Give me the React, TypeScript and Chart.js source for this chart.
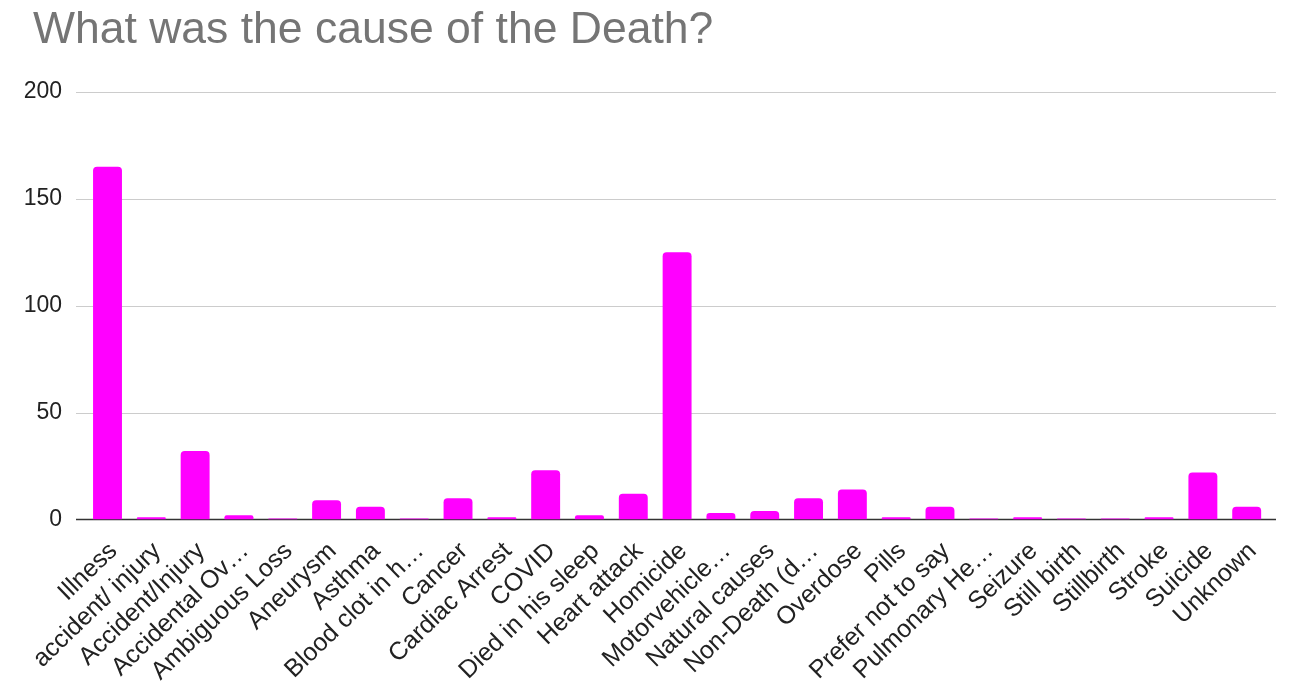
import React, { useEffect, useRef } from "react";
import { Chart, registerables } from "chart.js";

Chart.register(...registerables);

// Causes of death and how many responses named each one
const causes: string[] = [
  "Illness",
  "accident/ injury",
  "Accident/Injury",
  "Accidental Ov…",
  "Ambiguous Loss",
  "Aneurysm",
  "Asthma",
  "Blood clot in h…",
  "Cancer",
  "Cardiac Arrest",
  "COVID",
  "Died in his sleep",
  "Heart attack",
  "Homicide",
  "Motorvehicle…",
  "Natural causes",
  "Non-Death (d…",
  "Overdose",
  "Pills",
  "Prefer not to say",
  "Pulmonary He…",
  "Seizure",
  "Still birth",
  "Stillbirth",
  "Stroke",
  "Suicide",
  "Unknown",
];

const counts: number[] = [
  165, 1, 32, 2, 0, 9, 6, 0, 10, 1, 23, 2, 12, 125, 3, 4, 10, 14, 1, 6, 0, 1, 0, 0,
  1, 22, 6,
];

const yTicks: number[] = [0, 50, 100, 150, 200];

const TITLE = "What was the cause of the Death?";

const WIDTH = 1295;
const HEIGHT = 687;
const FONT = "Arial, 'Liberation Sans', sans-serif";

// Horizontal rules run a little past the bar area on both sides
const GRID_EXTEND_LEFT = 9.6;
const GRID_EXTEND_RIGHT = 7.4;

const gridPlugin = {
  id: "extendedGrid",
  beforeDatasetsDraw(chart: any) {
    const { ctx, chartArea, scales } = chart;
    const y = scales.y;
    const x0 = chartArea.left - GRID_EXTEND_LEFT;
    const x1 = chartArea.right + GRID_EXTEND_RIGHT;
    ctx.save();
    for (const v of yTicks) {
      const py = y.getPixelForValue(v);
      ctx.beginPath();
      if (v === 0) {
        ctx.strokeStyle = "#333333";
        ctx.lineWidth = 1.6;
        ctx.moveTo(x0, py);
        ctx.lineTo(x1, py);
      } else {
        ctx.strokeStyle = "#cccccc";
        ctx.lineWidth = 1;
        ctx.moveTo(x0, Math.round(py) + 0.5);
        ctx.lineTo(x1, Math.round(py) + 0.5);
      }
      ctx.stroke();
    }
    ctx.restore();
  },
};

export default function App() {
  const canvasRef = useRef<HTMLCanvasElement | null>(null);

  useEffect(() => {
    if (!canvasRef.current) return;
    const chart = new Chart(canvasRef.current, {
      type: "bar",
      data: {
        labels: causes,
        datasets: [
          {
            data: counts,
            backgroundColor: "#ff00ff",
            borderRadius: 4,
            borderSkipped: "start",
            barPercentage: 0.66,
            categoryPercentage: 1,
            minBarLength: 1,
          },
        ],
      },
      plugins: [gridPlugin],
      options: {
        responsive: false,
        animation: false,
        devicePixelRatio: 1,
        layout: { padding: { left: 0, right: 26.4, top: 92, bottom: 0 } },
        plugins: {
          legend: { display: false },
          tooltip: { enabled: false },
          title: { display: false },
        },
        scales: {
          x: {
            offset: true,
            grid: { display: false, drawTicks: false },
            border: { display: false },
            ticks: {
              autoSkip: false,
              minRotation: 44,
              maxRotation: 44,
              color: "#222222",
              padding: 17,
              labelOffset: 6,
              font: { family: FONT, size: 25 },
            },
            afterFit(scale: any) {
              scale.height = 167.5;
            },
          },
          y: {
            min: 0,
            max: 200,
            grid: { display: false, drawTicks: false },
            border: { display: false },
            afterBuildTicks(scale: any) {
              scale.ticks = yTicks.map((v) => ({ value: v }));
            },
            ticks: {
              color: "#222222",
              padding: 23.6,
              font: { family: FONT, size: 23 },
            },
            afterFit(scale: any) {
              scale.width = 85.6;
            },
          },
        },
      },
    });
    return () => chart.destroy();
  }, []);

  return (
    <div
      style={{
        position: "absolute",
        left: 0,
        top: 0,
        width: WIDTH,
        height: HEIGHT,
        background: "#ffffff",
      }}
    >
      <canvas
        ref={canvasRef}
        width={WIDTH}
        height={HEIGHT}
        style={{ position: "absolute", left: 0, top: 0 }}
      />
      <div
        style={{
          position: "absolute",
          left: 33,
          top: 5.5,
          fontFamily: FONT,
          fontSize: 44.5,
          lineHeight: "44.5px",
          color: "#757575",
          whiteSpace: "nowrap",
        }}
      >
        {TITLE}
      </div>
    </div>
  );
}
